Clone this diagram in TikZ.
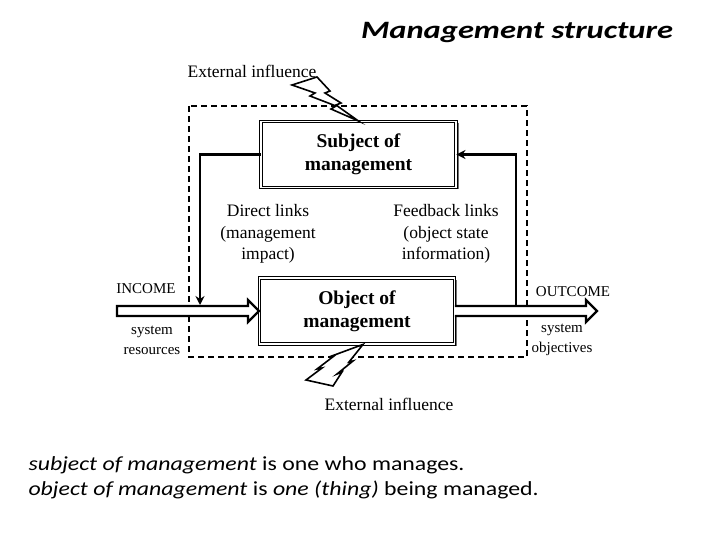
\documentclass[tikz,border=0pt]{standalone}
\usepackage{fontspec}
\setmainfont{Liberation Serif}
\newfontfamily\calib[FakeStretch=1.3]{Carlito}
\newfontfamily\calibtxt[FakeStretch=1.19]{Carlito}
\usetikzlibrary{arrows.meta,positioning,calc,shadows}
\tikzset{
  mgmt/.style={draw, double, double distance=1.6pt, line width=0.9pt, minimum width=195pt, minimum height=66pt, align=center, fill=white, font=\fontsize{19.5}{23}\selectfont\bfseries, drop shadow={shadow xshift=2.5pt, shadow yshift=-2pt, fill=black!55, opacity=1}},
  note/.style={align=center, font=\fontsize{17.5}{21.5}\selectfont},
  small/.style={align=center, font=\fontsize{15}{20}\selectfont},
  frame/.style={line width=1.8pt, dash pattern=on 6pt off 4pt},
  link/.style={line width=2.4pt, -{Stealth[length=9pt,width=9pt]}},
  fatarr/.style={line width=2.2pt, line join=miter, fill=white},
  bolt/.style={line width=1.6pt, line join=miter, fill=white},
  defn/.style={anchor=west, font=\calibtxt\fontsize{20}{25}\selectfont},
}
\begin{document}
\begin{tikzpicture}[x=1pt,y=-1pt]
\useasboundingbox (0,0) rectangle (720,540);
\node[font=\calib\fontsize{25}{30}\selectfont\bfseries\itshape] (title) at (517,33) {Management structure};
% system boundary
\draw[frame] (189,106) rectangle (527,357);
% subject and object
\node[mgmt] (subj) at (358.5,154.5) {Subject of\\management};
\node[mgmt] (obj) at (357,311) {Object of\\management};
\node[note] (direct) at (268,234) {Direct links\\(management\\impact)};
\node[note] (fback) at (446,234) {Feedback links\\(object state\\information)};
% input and output
\node[small] (inc) at (146,289) {INCOME};
\node[small] (res) at (152,340) {system\\resources};
\node[small] (outc) at (573,292) {OUTCOME};
\node[small] (objv) at (562,340) {system\\objectives};
\coordinate (in0) at (117,311);
\coordinate (out1) at (597,311);
\draw[fatarr] ($(in0)+(0,-5)$) -- ($(obj.west)+(-11,-5)$) -- ++(0,-6) -- (obj.west)
  -- ($(obj.west)+(-11,11)$) -- ++(0,-6) -- ($(in0)+(0,5)$) -- cycle;
\draw[fatarr] ($(obj.east)+(0,-5)$) -- ($(out1)+(-11,-5)$) -- ++(0,-6) -- (out1)
  -- ++(-11,11) -- ++(0,-6) -- ($(obj.east)+(0,5)$);
% links
\coordinate (dl) at (200,305);
\coordinate (fb) at (516,306);
\draw[link] (subj.west) -| (dl);
\draw[link] (fb) |- (subj.east);
% external influence
\node[note] (ext1) at (252,71) {External influence};
\node[note] (ext2) at (389,404) {External influence};
\draw[bolt] (292,85) -- (317,77) -- (330,91) -- (325,93) -- (341,103) -- (336,105) -- (subj.north)
  -- (331,109) -- (336,106) -- (310,96) -- (315,93) -- cycle;
\draw[bolt] ($(obj.south)+(6,0)$) -- (349,362) -- (353,361) -- (337,374) -- (342,372) -- (333,386)
  -- (306,380) -- (322,368) -- (317,369) -- (334,356) -- (329,357) -- cycle;
% definitions
\node[defn] (def1) at (25,465) {\textit{subject of management} is one who manages.};
\node[defn] (def2) at (25,490) {\textit{object of management} is \textit{one (thing)} being managed.};
\end{tikzpicture}
\end{document}
